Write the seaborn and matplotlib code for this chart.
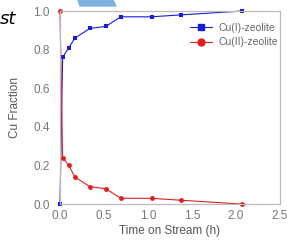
import numpy as np
import pandas as pd
import matplotlib
matplotlib.use("Agg")
import matplotlib.pyplot as plt
import seaborn as sns
from matplotlib.patches import Polygon
from matplotlib.lines import Line2D

# ma'lumotlar (rasmdan o'qilgan)
time_h = [0.0, 0.03, 0.10, 0.17, 0.34, 0.52, 0.69, 1.04, 1.37, 2.07]
cu1 = [0.0, 0.76, 0.81, 0.86, 0.91, 0.92, 0.97, 0.97, 0.98, 1.0]
cu2 = [1.0, 0.24, 0.20, 0.14, 0.09, 0.08, 0.03, 0.03, 0.02, 0.0]
labels = ["Cu(I)-zeolite", "Cu(II)-zeolite"]

df = pd.DataFrame({"t": time_h * 2,
                   "frac": cu1 + cu2,
                   "seriya": [labels[0]] * len(time_h) + [labels[1]] * len(time_h)})

sns.set_style("white")
plt.rcParams['font.family'] = ['Liberation Sans', 'DejaVu Sans']

fig = plt.figure(figsize=(2.87, 2.45), dpi=100)
ax = fig.add_axes([0.209, 0.167, 0.767, 0.788])

sns.lineplot(data=df, x="t", y="frac", hue="seriya", style="seriya",
             palette=["#1a1adb", "#e0201e"], markers=["s", "o"], dashes=False,
             markersize=3.5, linewidth=0.8, markeredgewidth=0, ax=ax, legend=False)
for ln in ax.lines:
    ln.set_clip_on(False)

ax.set_xlim(0, 2.5)
ax.set_ylim(0, 1.0)
ax.set_xticks(np.arange(0, 2.51, 0.5))
ax.set_yticks(np.arange(0, 1.01, 0.2))
ax.set_xticklabels(["0.0", "0.5", "1.0", "1.5", "2.0", "2.5"])
ax.set_yticklabels(["0.0", "0.2", "0.4", "0.6", "0.8", "1.0"])
ax.tick_params(labelsize=8.5, colors="#777777", length=2.5, width=0.6, pad=2)
ax.tick_params(axis="y", pad=5)
ax.set_xlabel("Time on Stream (h)", fontsize=8.5, color="#555555", labelpad=2)
ax.set_ylabel("Cu Fraction", fontsize=8.5, color="#555555", labelpad=9)
for s in ax.spines.values():
    s.set_color("#bbbbbb")
    s.set_linewidth(0.9)

# legend
h = [Line2D([], [], color="#1a1adb", marker="s", markersize=5, lw=0.8),
     Line2D([], [], color="#e0201e", marker="o", markersize=5, lw=0.8)]
leg = ax.legend(h, labels, loc="upper right", bbox_to_anchor=(1.025, 0.975), frameon=False,
                fontsize=7.5, handlelength=2.2, labelspacing=0.4, borderpad=0.2, handletextpad=0.6)
for t in leg.get_texts():
    t.set_color("#666666")

# sahifadan qolgan bo'laklar
fig.text(0.0, 0.96, "st", fontsize=13, style="italic", color="black", va="top", ha="left",
         family=["DejaVu Sans"])
fig.patches.append(Polygon([[78 / 287, 1.0], [113 / 287, 1.0], [116 / 287, 1 - 6 / 245], [80 / 287, 1 - 6 / 245]],
                           closed=True, transform=fig.transFigure, color="#80b3de", zorder=5))

fig.savefig("out.png", dpi=100)
